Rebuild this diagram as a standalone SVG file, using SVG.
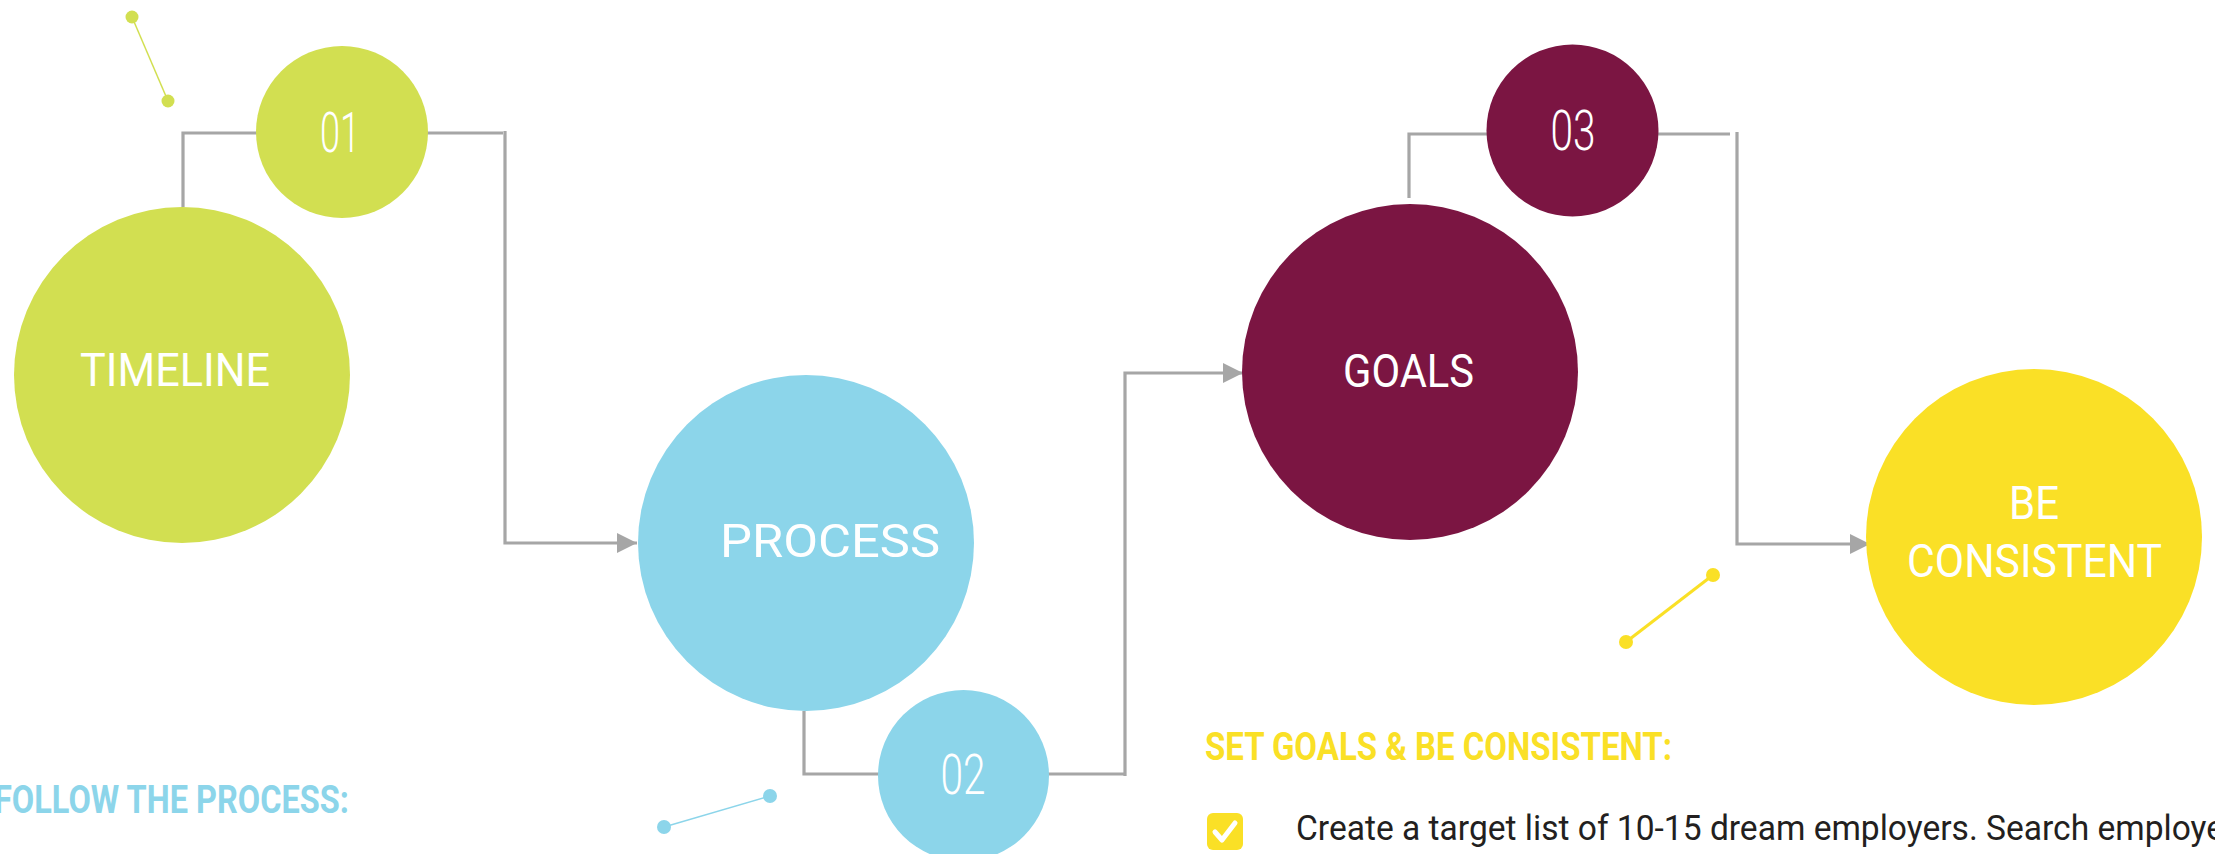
<svg xmlns="http://www.w3.org/2000/svg" width="2215" height="854" viewBox="0 0 2215 854">
  <defs>
    <style>
      .lbl{font-family:Roboto,"Liberation Sans",sans-serif;font-weight:400;fill:#ffffff;text-anchor:middle}
      .big{font-size:47px}
      .num{font-size:56px;font-weight:300}
      .conn{fill:none;stroke:#a6a6a6;stroke-width:3.2}
      .head{font-family:Roboto,"Liberation Sans",sans-serif;font-weight:700;font-size:38px}
      .body{font-family:Roboto,"Liberation Sans",sans-serif;font-weight:400;font-size:35px;fill:#231f20}
      .green{fill:#d2df51}
      .blue{fill:#8cd5ea}
      .maroon{fill:#7b1542}
      .yellow{fill:#fae026}
    </style>
    <marker id="arrow" markerUnits="userSpaceOnUse" markerWidth="22" markerHeight="22" refX="20" refY="10" orient="auto">
      <polygon points="0,0 20,10 0,20" fill="#a6a6a6"/>
    </marker>
  </defs>
  <rect width="2215" height="854" fill="#ffffff"/>

  <g id="connectors">
    <polyline class="conn" points="183,207 183,133 258,133"/>
    <line class="conn" x1="426" y1="133" x2="503" y2="133"/>
    <polyline class="conn" points="505,131 505,543 637,543" marker-end="url(#arrow)"/>
    <polyline class="conn" points="804,711 804,774 880,774"/>
    <line class="conn" x1="1047" y1="774" x2="1124" y2="774"/>
    <polyline class="conn" points="1125,776 1125,373 1243,373" marker-end="url(#arrow)"/>
    <polyline class="conn" points="1409,198 1409,134 1489,134"/>
    <line class="conn" x1="1656" y1="134" x2="1730" y2="134"/>
    <polyline class="conn" points="1737,132 1737,544 1870,544" marker-end="url(#arrow)"/>
  </g>

  <g id="decor-green">
    <line x1="132" y1="17" x2="168" y2="101" stroke="#d2df51" stroke-width="1.5"/>
    <circle class="green" cx="132" cy="17" r="6.5"/>
    <circle class="green" cx="168" cy="101" r="6.5"/>
  </g>
  <g id="decor-blue">
    <line x1="664" y1="827" x2="770" y2="796" stroke="#8cd5ea" stroke-width="1.5"/>
    <circle class="blue" cx="664" cy="827" r="7"/>
    <circle class="blue" cx="770" cy="796" r="7"/>
  </g>
  <g id="decor-yellow">
    <line x1="1626" y1="642" x2="1713" y2="575" stroke="#fae026" stroke-width="3"/>
    <circle class="yellow" cx="1626" cy="642" r="7"/>
    <circle class="yellow" cx="1713" cy="575" r="7"/>
  </g>

  <g id="node-timeline">
    <circle class="green" cx="182" cy="375" r="168"/>
    <text class="lbl big" x="175" y="386" textLength="190" lengthAdjust="spacingAndGlyphs">TIMELINE</text>
  </g>
  <g id="node-01">
    <circle class="green" cx="342" cy="132" r="86"/>
    <text class="lbl num" x="340" y="152" textLength="40" lengthAdjust="spacingAndGlyphs">01</text>
  </g>
  <g id="node-process">
    <circle class="blue" cx="806" cy="543" r="168"/>
    <text class="lbl big" x="830" y="557" textLength="220" lengthAdjust="spacingAndGlyphs">PROCESS</text>
  </g>
  <g id="node-02">
    <circle class="blue" cx="963.5" cy="775.5" r="85.5"/>
    <text class="lbl num" x="963" y="794" textLength="45" lengthAdjust="spacingAndGlyphs">02</text>
  </g>
  <g id="node-goals">
    <circle class="maroon" cx="1410" cy="372" r="168"/>
    <text class="lbl big" x="1408.5" y="387" textLength="131" lengthAdjust="spacingAndGlyphs">GOALS</text>
  </g>
  <g id="node-03">
    <circle class="maroon" cx="1572.5" cy="130.5" r="86"/>
    <text class="lbl num" x="1573" y="150" textLength="45" lengthAdjust="spacingAndGlyphs">03</text>
  </g>
  <g id="node-be-consistent">
    <circle class="yellow" cx="2034" cy="537" r="168"/>
    <text class="lbl big" x="2034" y="519" textLength="50" lengthAdjust="spacingAndGlyphs">BE</text>
    <text class="lbl big" x="2034.5" y="577" textLength="255" lengthAdjust="spacingAndGlyphs">CONSISTENT</text>
  </g>

  <g id="text-process">
    <text class="head" x="-6" y="813" fill="#8cd5ea" textLength="355" lengthAdjust="spacingAndGlyphs">FOLLOW THE PROCESS:</text>
  </g>
  <g id="text-goals">
    <text class="head" x="1205" y="760" fill="#fae026" textLength="467" lengthAdjust="spacingAndGlyphs">SET GOALS &amp; BE CONSISTENT:</text>
    <rect class="yellow" x="1207" y="813" width="36" height="37" rx="6"/>
    <polyline points="1215,832 1222,840 1235,823" fill="none" stroke="#ffffff" stroke-width="5" stroke-linecap="round" stroke-linejoin="round"/>
    <text class="body" x="1296" y="840" textLength="928" lengthAdjust="spacingAndGlyphs">Create a target list of 10-15 dream employers. Search employe</text>
  </g>
</svg>
